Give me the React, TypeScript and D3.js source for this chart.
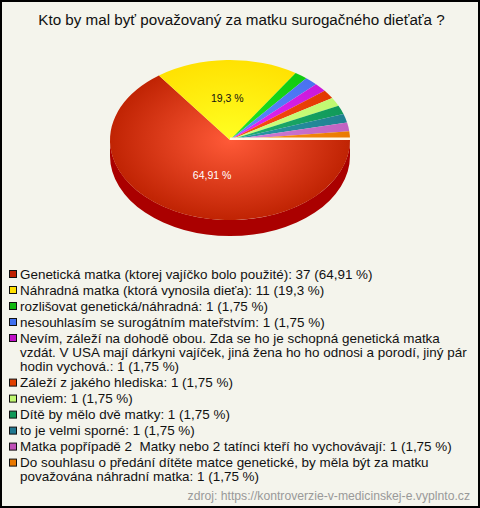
import React from "react";
import * as d3 from "d3";

const title = "Kto by mal byť považovaný za matku surogačného dieťaťa ?";
const values = [37, 11, 1, 1, 1, 1, 1, 1, 1, 1, 1];
const pctLabels = ["64,91 %", "19,3 %"];
const centerColors = ["#ff5a38", "#ffff22", "#22e822", "#5c8cff", "#e828f8", "#ff5018", "#d0ff80", "#20b070", "#2898a8", "#d080d8", "#ff9818"];
const edgeColors = ["#bc2000", "#ffe000", "#10c810", "#4870f0", "#c818d8", "#e03800", "#c0f870", "#109858", "#208090", "#c060c0", "#e87800"];
const legendColors = ["#c02000", "#ffe000", "#10b810", "#4070f0", "#c010c8", "#e04000", "#c0f870", "#109858", "#207890", "#c050b8", "#e87800"];
const legendLines = [
  ["Genetická matka (ktorej vajíčko bolo použité): 37 (64,91 %)"],
  ["Náhradná matka (ktorá vynosila dieťa): 11 (19,3 %)"],
  ["rozlišovat genetická/náhradná: 1 (1,75 %)"],
  ["nesouhlasím se surogátním mateřstvím: 1 (1,75 %)"],
  ["Nevím, záleží na dohodě obou. Zda se ho je schopná genetická matka", "vzdát. V USA mají dárkyni vajíček, jiná žena ho ho odnosi a porodí, jiný pár", "hodin vychová.: 1 (1,75 %)"],
  ["Záleží z jakého hlediska: 1 (1,75 %)"],
  ["neviem: 1 (1,75 %)"],
  ["Dítě by mělo dvě matky: 1 (1,75 %)"],
  ["to je velmi sporné: 1 (1,75 %)"],
  ["Matka popřípadě 2  Matky nebo 2 tatínci kteří ho vychovávají: 1 (1,75 %)"],
  ["Do souhlasu o předání dítěte matce genetické, by měla být za matku", "považována náhradní matka: 1 (1,75 %)"],
];
const source = "zdroj: https://kontroverzie-v-medicinskej-e.vyplnto.cz";

const W = 480, H = 508;
const cx = 230, cy = 140, rx = 120, ry = 80, depth = 16;
const font = "'Liberation Sans', Arial, sans-serif";

export default function App() {
  const pie = d3.pie<number>().sort(null).startAngle(Math.PI / 2).endAngle(Math.PI / 2 + 2 * Math.PI);
  const slices = pie(values);
  const arc = d3.arc<d3.PieArcDatum<number>>().innerRadius(0).outerRadius(rx);
  const labelPos = (i: number) => {
    const s = slices[i];
    const a = (s.startAngle + s.endAngle) / 2 - Math.PI / 2;
    const fx = i === 0 ? 0.33 : 0.8;
    const fy = i === 0 ? 0.49 : 0.52;
    return [cx + Math.cos(a) * rx * fx, cy + Math.sin(a) * ry * fy];
  };
  let y = 274;
  const legendLayout = legendLines.map((lines) => {
    const y0 = y;
    y += 14.3 * lines.length + 1.7;
    return y0;
  });
  const wall = `M${cx - rx},${cy}A${rx},${ry} 0 0 0 ${cx + rx},${cy}L${cx + rx},${cy + depth}A${rx},${ry} 0 0 1 ${cx - rx},${cy + depth}Z`;
  return (
    <svg width={W} height={H} style={{ position: "absolute", left: 0, top: 0, fontFamily: font }}>
      <defs>
        {centerColors.map((c, i) => (
          <radialGradient key={i} id={`g${i}`} gradientUnits="userSpaceOnUse" cx={0} cy={0} r={rx * 1.06}>
            <stop offset="0" stopColor={c} />
            <stop offset="1" stopColor={edgeColors[i]} />
          </radialGradient>
        ))}
      </defs>
      <rect x={1} y={1} width={W - 2} height={H - 2} fill="#f4f4ec" stroke="#000" strokeWidth={2} />
      <text x={241.5} y={25} textAnchor="middle" fontSize={15.2} fill="#111">{title}</text>
      <path d={wall} fill="#aa0000" />
      <g transform={`translate(${cx},${cy}) scale(1,${ry / rx})`}>
        {slices.map((s, i) => (
          <path key={i} d={arc(s) ?? ""} fill={`url(#g${i})`} />
        ))}
      </g>
      <rect x={cx} y={cy - 2.5} width={rx} height={2.5} fill="#fff8e8" />
      {pctLabels.map((t, i) => {
        const [lx, ly] = labelPos(i);
        return (
          <text key={i} x={lx} y={ly + 4} textAnchor="middle" fontSize={10.5} fill={i === 0 ? "#fff" : "#111"}>{t}</text>
        );
      })}
      {legendLines.map((lines, i) => (
        <g key={i}>
          <rect x={9.5} y={legendLayout[i] - 3.5} width={7} height={7} fill={legendColors[i]} stroke="#111" strokeWidth={1} />
          {lines.map((l, j) => (
            <text key={j} x={20} y={legendLayout[i] + 4.5 + j * 14.3} fontSize={13.45} fill="#111" style={{ whiteSpace: "pre" }}>{l}</text>
          ))}
        </g>
      ))}
      <text x={470} y={500} textAnchor="end" fontSize={12.2} fill="#999">{source}</text>
    </svg>
  );
}
